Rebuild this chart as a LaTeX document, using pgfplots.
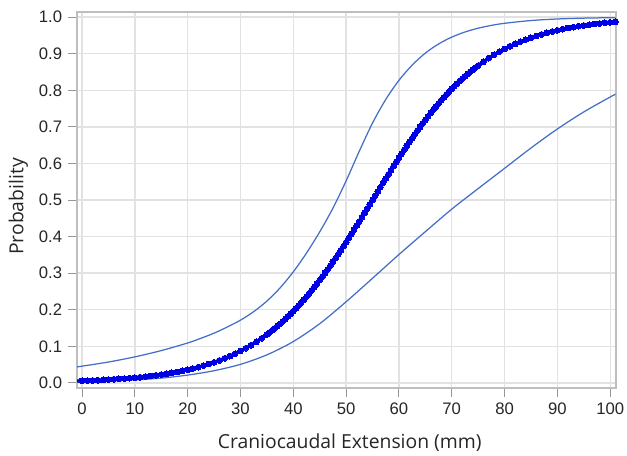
\documentclass[border=0pt]{standalone}
\usepackage{fontspec}
\setmainfont{Liberation Sans}
\newfontfamily\labfont{Open Sans}
\usepackage{pgfplots}
\pgfplotsset{compat=1.18}
\usepackage{xcolor}
\definecolor{bandblue}{RGB}{68,110,200}
\definecolor{dotblue}{RGB}{0,0,228}
\definecolor{gridgray}{RGB}{226,226,226}
\definecolor{boxgray}{RGB}{190,190,190}
\definecolor{tickgray}{RGB}{150,150,150}

\begin{document}
\begin{tikzpicture}
  % page = picture size, axis box placed inside it
  \path[use as bounding box] (-46.2pt,-40.2pt) rectangle (330pt,232.8pt);
  \begin{axis}[
    scale only axis,
    width=323.4pt, height=225.6pt,
    at={(0,0)}, anchor=south west,
    xmin=-0.95, xmax=101.1,
    ymin=-0.014, ymax=1.014,
    xtick={0,10,...,100},
    ytick={0,0.1,...,1.0},
    tick pos=left,
    tick align=outside,
    major tick length=5.4pt,
    every tick/.style={tickgray, line width=0.6pt},
    axis line style={boxgray, line width=0.7pt},
    grid=major,
    major grid style={gridgray, line width=0.8pt},
    yticklabel style={/pgf/number format/.cd, fixed, fixed zerofill, precision=1},
    /pgf/number format/assume math mode=true,
    tick label style={font=\fontsize{10}{12}\selectfont, text=black!85},
    xlabel={\labfont\fontsize{11.6}{14}\selectfont Craniocaudal Extension (mm)},
    ylabel={\labfont\fontsize{11.6}{14}\selectfont Probability},
    every axis x label/.style={at={(axis description cs:0.506,-0.1596)}, anchor=base, text=black!85},
    every axis y label/.style={at={(axis description cs:-0.0996,0.4827)}, anchor=base, rotate=90, text=black!85},
  ]
  % upper confidence limit
  \addplot[bandblue, line width=0.75pt, smooth] coordinates {
    (-1,0.0436) (0,0.0457) (5,0.0570) (10,0.0711) (15,0.0883) (20,0.1091)
    (22.5,0.1219) (25,0.1359) (27.5,0.1528) (30,0.1715) (32.5,0.1947)
    (35,0.2236) (37.5,0.2597) (40,0.3036) (42.5,0.3549) (45,0.4128)
    (47.5,0.4775) (50,0.5523) (52.5,0.6336) (55,0.7104) (57.5,0.7747)
    (60,0.8271) (62.5,0.8687) (65,0.9016) (67.5,0.9265) (70,0.9453)
    (72.5,0.9593) (75,0.9697) (77.5,0.9774) (80,0.9831) (85,0.9907)
    (90,0.9949) (95,0.9972) (100,0.9984) (101,0.9986)
  };
  % lower confidence limit
  \addplot[bandblue, line width=0.75pt, smooth] coordinates {
    (-1,0.0025) (0,0.0027) (5,0.0047) (10,0.0080) (15,0.0131) (20,0.0213)
    (25,0.0333) (30,0.0507) (35,0.0766) (40,0.1130) (45,0.1618) (50,0.2218)
    (55,0.2860) (60,0.3509) (65,0.4134) (70,0.4750) (75,0.5312) (80,0.5866)
    (85,0.6422) (90,0.6942) (95,0.7408) (100,0.7816) (101,0.7892)
  };
  % predicted probability
  \addplot[dotblue, line width=2pt, mark=*, mark size=1.75pt,
           mark options={line width=0pt}] coordinates {
    (-1,0.0052) (0,0.0057) (1,0.0062) (2,0.0068) (3,0.0075) (4,0.0082)
    (5,0.0090) (6,0.0099) (7,0.0109) (8,0.0119) (9,0.0131) (10,0.0143)
    (11,0.0157) (12,0.0173) (13,0.0189) (14,0.0208) (15,0.0228) (16,0.0249)
    (17,0.0273) (18,0.0299) (19,0.0328) (20,0.0359) (21,0.0393) (22,0.0430)
    (23,0.0471) (24,0.0515) (25,0.0563) (26,0.0615) (27,0.0671) (28,0.0732)
    (29,0.0799) (30,0.0871) (31,0.0948) (32,0.1032) (33,0.1122) (34,0.1220)
    (35,0.1324) (35.5,0.1379) (36,0.1436) (36.5,0.1494) (37,0.1555)
    (37.5,0.1618) (38,0.1683) (38.5,0.1749) (39,0.1818) (39.5,0.1889)
    (40,0.1962) (40.5,0.2038) (41,0.2115) (41.5,0.2194) (42,0.2276)
    (42.5,0.2360) (43,0.2445) (43.5,0.2533) (44,0.2623) (44.5,0.2715)
    (45,0.2809) (45.5,0.2905) (46,0.3003) (46.5,0.3102) (47,0.3204)
    (47.5,0.3307) (48,0.3412) (48.5,0.3518) (49,0.3626) (49.5,0.3736)
    (50,0.3846) (50.5,0.3958) (51,0.4071) (51.5,0.4185) (52,0.4300)
    (52.5,0.4415) (53,0.4531) (53.5,0.4648) (54,0.4765) (54.5,0.4883)
    (55,0.5000) (55.5,0.5118) (56,0.5235) (56.5,0.5352) (57,0.5469)
    (57.5,0.5585) (58,0.5700) (58.5,0.5815) (59,0.5929) (59.5,0.6042)
    (60,0.6154) (60.5,0.6265) (61,0.6374) (61.5,0.6482) (62,0.6588)
    (62.5,0.6693) (63,0.6796) (63.5,0.6898) (64,0.6997) (64.5,0.7095)
    (65,0.7191) (65.5,0.7285) (66,0.7377) (66.5,0.7467) (67,0.7555)
    (67.5,0.7641) (68,0.7724) (68.5,0.7806) (69,0.7885) (69.5,0.7963)
    (70,0.8038) (70.5,0.8111) (71,0.8182) (71.5,0.8251) (72,0.8317)
    (72.5,0.8382) (73,0.8445) (73.5,0.8506) (74,0.8564) (74.5,0.8621)
    (75,0.8676) (76,0.8780) (77,0.8878) (78,0.8968) (79,0.9052) (80,0.9129)
    (81,0.9201) (82,0.9268) (83,0.9329) (84,0.9385) (85,0.9437) (86,0.9485)
    (87,0.9529) (88,0.9570) (89,0.9607) (90,0.9641) (91,0.9672) (92,0.9701)
    (93,0.9727) (94,0.9751) (95,0.9772) (96,0.9791) (97,0.9811) (98,0.9827)
    (99,0.9843) (100,0.9857) (101,0.9870)
  };
  \end{axis}
\end{tikzpicture}
\end{document}
